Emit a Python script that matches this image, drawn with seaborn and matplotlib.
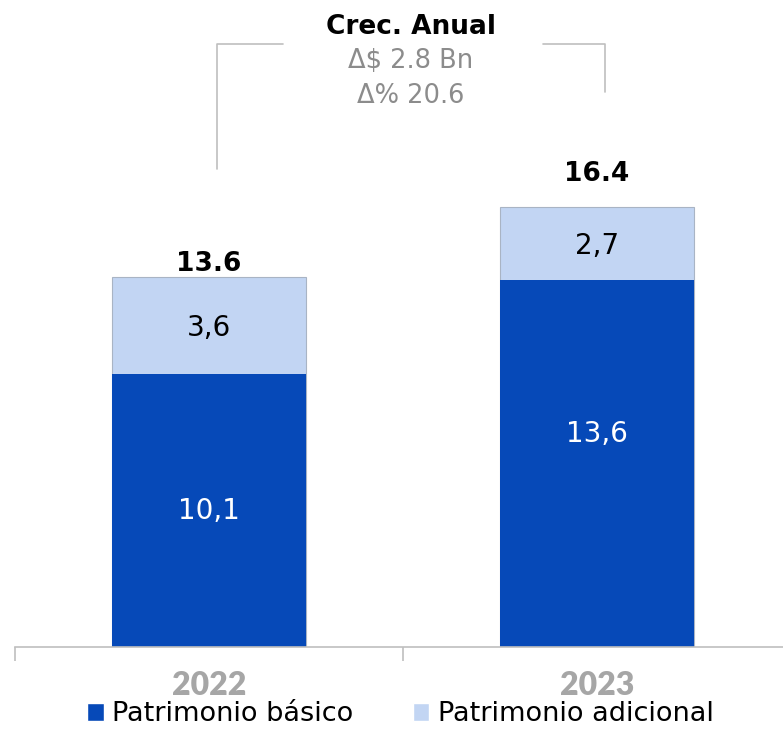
import matplotlib
matplotlib.use("Agg")
import matplotlib.pyplot as plt
import seaborn as sns
import pandas as pd
from matplotlib.patches import Patch

years = ["2022", "2023"]
basico = [10.1, 13.6]
adicional = [3.6, 2.7]
totales = [13.6, 16.4]
basico_lbl = ["10,1", "13,6"]
adicional_lbl = ["3,6", "2,7"]
crec_titulo = "Crec. Anual"
crec_lineas = ["Δ$ 2.8 Bn", "Δ% 20.6"]

DARK = "#0649b8"
LIGHT = "#c2d5f3"
GRAY = "#bfbfbf"

sns.set_style("white")
plt.rcParams["font.family"] = ["DejaVu Sans"]

df = pd.DataFrame({"year": years, "basico": basico, "adicional": adicional})
df["stack"] = df["basico"] + df["adicional"]

fig = plt.figure(figsize=(7.83, 7.32), dpi=100)
ax = fig.add_axes([15 / 783, 85 / 732, 776 / 783, 647 / 732])

sns.barplot(data=df, x="year", y="stack", color=LIGHT, width=0.5, saturation=1,
            edgecolor="#a9b4c4", linewidth=0.8, ax=ax)
sns.barplot(data=df, x="year", y="basico", color=DARK, width=0.5, saturation=1,
            linewidth=0, ax=ax)

ax.set_xlim(-0.5, 1.5)
ax.set_ylim(0, 647 / 27)
ax.set_xlabel("")
ax.set_ylabel("")
ax.set_yticks([])
for s in ["top", "right", "left"]:
    ax.spines[s].set_visible(False)
ax.spines["bottom"].set_color(GRAY)
ax.spines["bottom"].set_linewidth(1.2)
ax.set_xticks([-0.5, 0.5, 1.5], minor=True)
ax.tick_params(axis="x", which="minor", bottom=True, length=10, width=1.2,
               color=GRAY, direction="out")
ax.tick_params(axis="x", which="major", length=0, pad=17)
for t in ax.get_xticklabels():
    t.set_fontfamily(["Lato", "DejaVu Sans"])
    t.set_fontsize(23)
    t.set_fontweight("heavy")
    t.set_color("#a6a6a6")

# dark segment labels sit a bit high in the 2023 bar
basico_y = [basico[0] * 0.5, basico[1] * 0.58]
total_pad = [0.0, 0.75]
for i in range(len(years)):
    ax.text(i, basico_y[i], basico_lbl[i], ha="center", va="center",
            color="white", fontsize=20)
    ax.text(i, basico[i] + adicional[i] / 2 - 0.1, adicional_lbl[i], ha="center",
            va="center", color="black", fontsize=20)
    ax.text(i, basico[i] + adicional[i] + total_pad[i], f"{totales[i]:.1f}",
            ha="center", va="bottom", color="black", fontsize=19,
            fontweight="bold")

# bracket for annual growth
line_kw = dict(color=GRAY, linewidth=1.2, clip_on=False)
ax.plot([0.02, 0.02, 0.19], [17.7, 22.35, 22.35], **line_kw)
ax.plot([0.86, 1.02, 1.02], [22.35, 22.35, 20.55], **line_kw)
ax.text(0.52, 22.97, crec_titulo, ha="center", va="center", fontsize=19,
        fontweight="bold", color="black")
ax.text(0.52, 21.72, crec_lineas[0], ha="center", va="center", fontsize=18.5,
        color="#8c8c8c")
ax.text(0.52, 20.42, crec_lineas[1], ha="center", va="center", fontsize=18.5,
        color="#8c8c8c")

handles = [Patch(facecolor=DARK, label="Patrimonio básico"),
           Patch(facecolor=LIGHT, label="Patrimonio adicional")]
fig.legend(handles=handles, loc="lower center", bbox_to_anchor=(0.511, -0.027),
           ncol=2, frameon=False, fontsize=19.5, handlelength=0.62,
           handleheight=0.62, handletextpad=0.3, columnspacing=2.2,
           labelcolor="black")

fig.savefig("out.png", dpi=100)
